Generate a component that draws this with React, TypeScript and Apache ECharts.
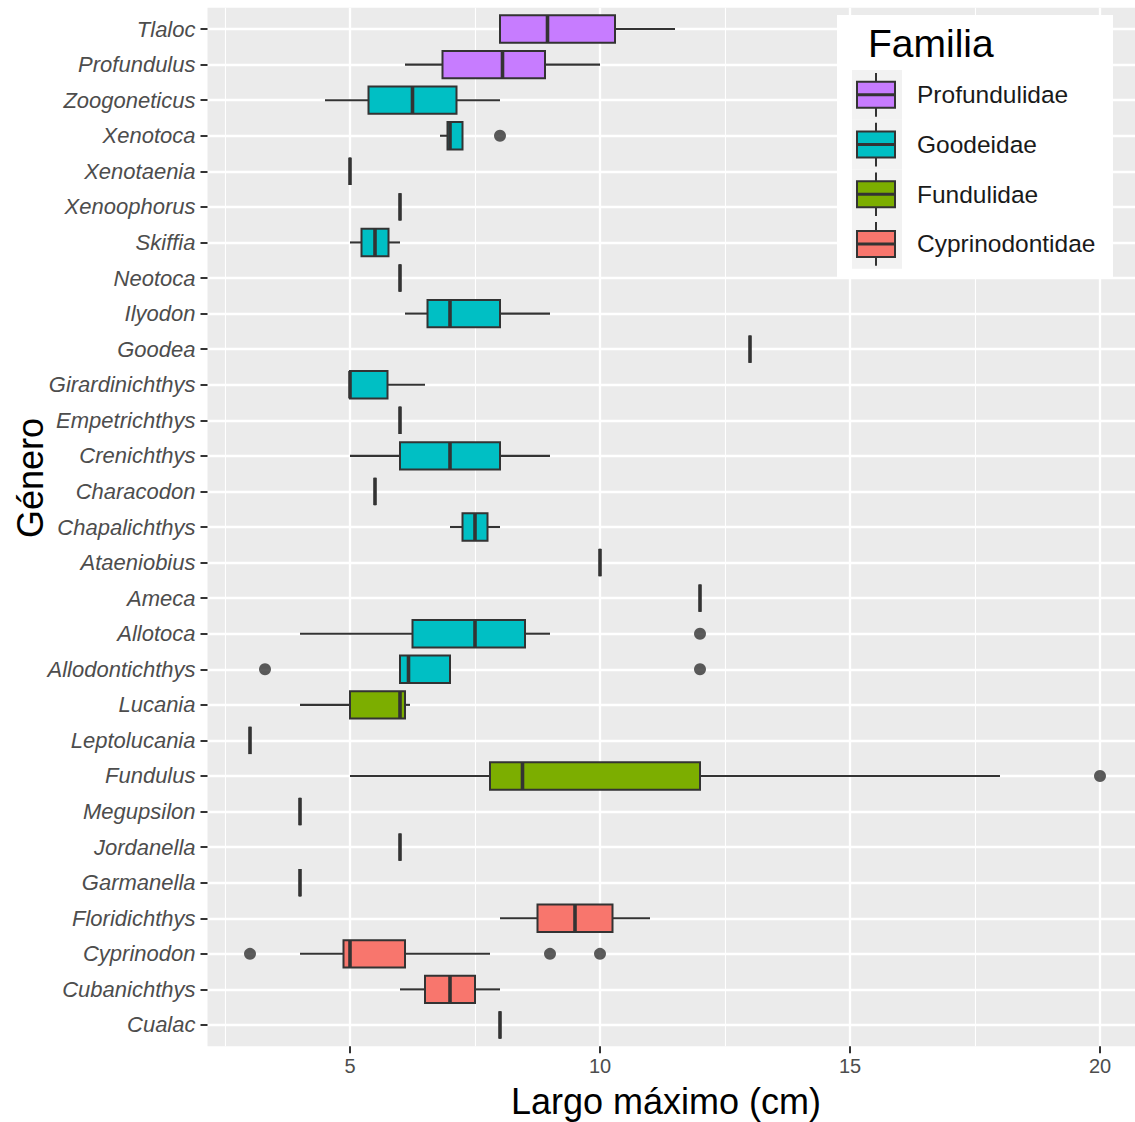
import React, { useEffect, useRef } from "react";
import * as echarts from "echarts";

// ---- data ----
const genera = [
  "Tlaloc", "Profundulus", "Zoogoneticus", "Xenotoca", "Xenotaenia", "Xenoophorus",
  "Skiffia", "Neotoca", "Ilyodon", "Goodea", "Girardinichthys", "Empetrichthys",
  "Crenichthys", "Characodon", "Chapalichthys", "Ataeniobius", "Ameca", "Allotoca",
  "Allodontichthys", "Lucania", "Leptolucania", "Fundulus", "Megupsilon", "Jordanella",
  "Garmanella", "Floridichthys", "Cyprinodon", "Cubanichthys", "Cualac",
];
const familiaDeGenero = [
  "Profundulidae", "Profundulidae", "Goodeidae", "Goodeidae", "Goodeidae", "Goodeidae",
  "Goodeidae", "Goodeidae", "Goodeidae", "Goodeidae", "Goodeidae", "Goodeidae",
  "Goodeidae", "Goodeidae", "Goodeidae", "Goodeidae", "Goodeidae", "Goodeidae",
  "Goodeidae", "Fundulidae", "Fundulidae", "Fundulidae", "Cyprinodontidae", "Cyprinodontidae",
  "Cyprinodontidae", "Cyprinodontidae", "Cyprinodontidae", "Cyprinodontidae", "Cyprinodontidae",
];
const whiskerLow = [8, 6.1, 4.5, 6.8, 5, 6, 5, 6, 6.1, 13, 5, 6, 5, 5.5, 7, 10, 12, 4, 6, 4, 3, 5, 4, 6, 4, 8, 4, 6, 8];
const q1 = [8, 6.85, 5.37, 6.95, 5, 6, 5.23, 6, 6.55, 13, 5, 6, 6, 5.5, 7.25, 10, 12, 6.25, 6, 5, 3, 7.8, 4, 6, 4, 8.75, 4.87, 6.5, 8];
const median = [8.95, 8.05, 6.25, 7.0, 5, 6, 5.5, 6, 7, 13, 5, 6, 7, 5.5, 7.5, 10, 12, 7.5, 6.17, 6, 3, 8.45, 4, 6, 4, 9.5, 5, 7, 8];
const q3 = [10.3, 8.9, 7.13, 7.25, 5, 6, 5.77, 6, 8, 13, 5.75, 6, 8, 5.5, 7.75, 10, 12, 8.5, 7, 6.1, 3, 12, 4, 6, 4, 10.25, 6.1, 7.5, 8];
const whiskerHigh = [11.5, 10, 8, 7.25, 5, 6, 6, 6, 9, 13, 6.5, 6, 9, 5.5, 8, 10, 12, 9, 7, 6.2, 3, 18, 4, 6, 4, 11, 7.8, 8, 8];
const outlierGenus = ["Xenotoca", "Allotoca", "Allodontichthys", "Allodontichthys", "Fundulus", "Cyprinodon", "Cyprinodon", "Cyprinodon"];
const outlierValue = [8, 12, 3.3, 12, 20, 3, 9, 10];

const familias = ["Profundulidae", "Goodeidae", "Fundulidae", "Cyprinodontidae"];
const familiaColors = ["#C77CFF", "#00BFC4", "#7CAE00", "#F8766D"];

const xMajorTicks = [5, 10, 15, 20];
const xMinorTicks = [2.5, 7.5, 12.5, 17.5];

const FONT = "'Liberation Sans', Arial, sans-serif";
const DARK = "#333333";

export default function App() {
  const ref = useRef<HTMLDivElement>(null);

  useEffect(() => {
    if (!ref.current) return;
    const chart = echarts.init(ref.current, null, { renderer: "svg" });

    const boxData = genera.map((g, i) => [
      i, whiskerLow[i], q1[i], median[i], q3[i], whiskerHigh[i], familias.indexOf(familiaDeGenero[i]),
    ]);
    const outlierData = outlierGenus.map((g, k) => [outlierValue[k], genera.indexOf(g)]);
    const yIdx = genera.map((_, i) => i);

    const Z = 20;
    const legendTop = 70;
    const keyH = 49.7;
    const legendChildren: any[] = [
      { type: "rect", z: Z, shape: { x: 837, y: 15, width: 276, height: 263 }, style: { fill: "#FFFFFF" } },
      {
        type: "text", z: Z, x: 868, y: 43,
        style: { text: "Familia", font: `39px ${FONT}`, fill: "#000000", align: "left", verticalAlign: "middle" },
      },
    ];
    familias.forEach((f, i) => {
      const top = legendTop + i * keyH;
      const cy = top + keyH / 2;
      legendChildren.push(
        { type: "rect", z: Z, shape: { x: 852, y: top, width: 50, height: keyH }, style: { fill: "#F2F2F2" } },
        { type: "line", z: Z, shape: { x1: 876, y1: top + 3, x2: 876, y2: top + keyH - 3 }, style: { stroke: DARK, lineWidth: 2 } },
        { type: "rect", z: Z, shape: { x: 857, y: cy - 13, width: 38, height: 26 }, style: { fill: familiaColors[i], stroke: DARK, lineWidth: 2 } },
        { type: "line", z: Z, shape: { x1: 857, y1: cy, x2: 895, y2: cy }, style: { stroke: DARK, lineWidth: 3 } },
        {
          type: "text", z: Z, x: 917, y: cy,
          style: { text: f, font: `24.5px ${FONT}`, fill: "#1A1A1A", align: "left", verticalAlign: "middle" },
        },
      );
    });

    chart.setOption({
      animation: false,
      backgroundColor: "#FFFFFF",
      grid: {
        left: 207.5, top: 7.7, width: 927.5, height: 1038.6,
        show: true, backgroundColor: "#EBEBEB", borderWidth: 0,
      },
      xAxis: [
        {
          type: "value", min: 2.15, max: 20.7, position: "bottom",
          axisLine: { show: false, onZero: false },
          axisTick: { show: true, length: 7, customValues: xMajorTicks, lineStyle: { color: DARK, width: 2 } },
          axisLabel: { customValues: xMajorTicks, color: "#4D4D4D", fontSize: 20, fontFamily: FONT, margin: 10 },
          splitLine: { show: true, lineStyle: { color: "#FFFFFF", width: 2.3 } },
        },
        {
          type: "value", min: 2.15, max: 20.7, position: "top",
          axisLine: { show: false, onZero: false },
          axisTick: { show: false, customValues: xMinorTicks },
          axisLabel: { show: false, customValues: xMinorTicks },
          splitLine: { show: true, lineStyle: { color: "#FFFFFF", width: 1.1 } },
        },
      ],
      yAxis: {
        type: "value", min: -0.6, max: 28.6, inverse: true,
        axisLine: { show: false, onZero: false },
        axisTick: { show: true, length: 7, customValues: yIdx, lineStyle: { color: DARK, width: 2 } },
        axisLabel: {
          customValues: yIdx,
          formatter: (v: number) => genera[Math.round(v)] ?? "",
          color: "#4D4D4D", fontSize: 22, fontStyle: "italic", fontFamily: FONT, margin: 12,
        },
        splitLine: { show: true, lineStyle: { color: "#FFFFFF", width: 2.3 } },
      },
      series: [
        {
          type: "custom",
          data: boxData,
          encode: { x: [1, 2, 3, 4, 5], y: 0 },
          renderItem: (params: any, api: any) => {
            const idx = api.value(0);
            const pMin = api.coord([api.value(1), idx]);
            const pQ1 = api.coord([api.value(2), idx]);
            const pMd = api.coord([api.value(3), idx]);
            const pQ3 = api.coord([api.value(4), idx]);
            const pMax = api.coord([api.value(5), idx]);
            const color = familiaColors[api.value(6)];
            const h = api.size([0, 1])[1] * 0.77;
            const y = pMd[1];
            return {
              type: "group",
              children: [
                { type: "line", shape: { x1: pMin[0], y1: y, x2: pQ1[0], y2: y }, style: { stroke: DARK, lineWidth: 2.1 } },
                { type: "line", shape: { x1: pQ3[0], y1: y, x2: pMax[0], y2: y }, style: { stroke: DARK, lineWidth: 2.1 } },
                {
                  type: "rect",
                  shape: { x: pQ1[0], y: y - h / 2, width: pQ3[0] - pQ1[0], height: h },
                  style: { fill: color, stroke: DARK, lineWidth: 2 },
                },
                { type: "line", shape: { x1: pMd[0], y1: y - h / 2, x2: pMd[0], y2: y + h / 2 }, style: { stroke: DARK, lineWidth: 3.6 } },
              ],
            };
          },
        },
        {
          type: "scatter",
          data: outlierData,
          symbol: "circle",
          symbolSize: 12,
          itemStyle: { color: DARK },
        },
      ],
      graphic: [
        ...legendChildren,
        {
          type: "text", x: 666, y: 1101,
          style: { text: "Largo máximo (cm)", font: `36px ${FONT}`, fill: "#000000", align: "center", verticalAlign: "middle" },
        },
        {
          type: "text", x: 30, y: 478, rotation: Math.PI / 2,
          style: { text: "Género", font: `36px ${FONT}`, fill: "#000000", align: "center", verticalAlign: "middle" },
        },
      ],
    });

    return () => chart.dispose();
  }, []);

  return (
    <div
      ref={ref}
      style={{ position: "absolute", left: 0, top: 0, width: 1135, height: 1122 }}
    />
  );
}
